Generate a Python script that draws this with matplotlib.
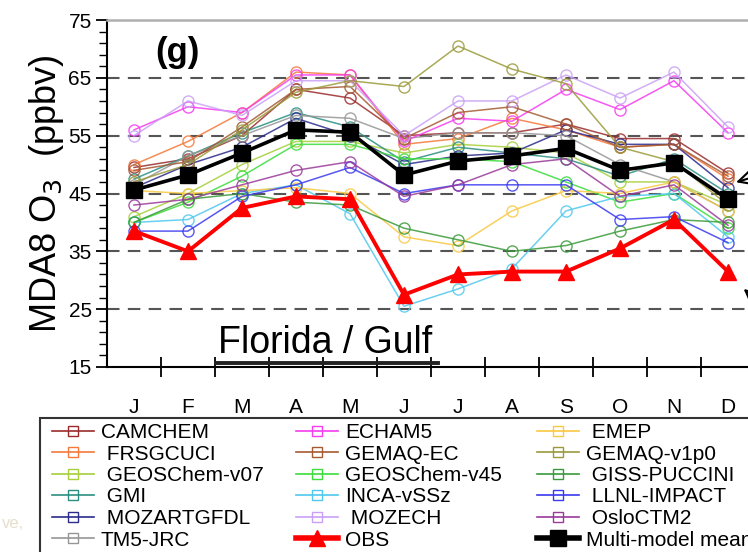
import numpy as np
import matplotlib
matplotlib.use('Agg')
import matplotlib.pyplot as plt
from matplotlib.lines import Line2D
from matplotlib.patches import Rectangle

plt.rcParams['font.family'] = ['Liberation Sans', 'DejaVu Sans']

months = ['J', 'F', 'M', 'A', 'M', 'J', 'J', 'A', 'S', 'O', 'N', 'D']

# model monthly MDA8 O3 (ppbv)
camchem   = [49.5, 51.0, 55.0, 63.0, 61.5, 55.0, 55.5, 55.5, 57.0, 54.5, 54.5, 48.5]
frsgcuci  = [50.0, 54.0, 59.0, 66.0, 65.5, 53.5, 54.5, 58.0, 56.0, 53.0, 53.5, 47.5]
geos_v07  = [41.0, 45.0, 50.0, 54.0, 54.0, 52.0, 53.5, 53.0, 52.0, 47.0, 47.0, 43.0]
gmi       = [47.5, 51.5, 55.5, 59.0, 56.5, 50.5, 53.0, 52.0, 51.0, 48.0, 51.0, 45.0]
mozartg   = [46.0, 50.0, 53.0, 58.0, 55.0, 50.0, 51.5, 52.0, 56.0, 53.5, 53.5, 46.0]
tm5       = [46.5, 51.5, 55.0, 58.5, 58.0, 54.5, 55.5, 55.5, 55.0, 50.0, 47.0, 42.0]
echam5    = [56.0, 60.0, 59.0, 65.5, 65.5, 54.0, 58.0, 57.5, 63.0, 59.5, 64.5, 55.5]
gemaq_ec  = [49.0, 50.5, 56.5, 63.0, 63.5, 54.5, 59.0, 60.0, 57.0, 53.0, 53.5, 48.0]
geos_v45  = [40.0, 43.5, 48.0, 53.5, 53.5, 51.0, 51.0, 50.5, 47.0, 43.5, 45.0, 39.0]
inca      = [40.0, 40.5, 45.0, 46.5, 41.5, 25.5, 28.5, 32.0, 42.0, 44.5, 45.0, 37.5]
mozech    = [55.0, 61.0, 58.5, 64.5, 64.5, 55.0, 61.0, 61.0, 65.5, 61.5, 66.0, 56.5]
emep      = [45.5, 45.0, 45.5, 46.0, 45.0, 37.5, 36.0, 42.0, 45.5, 45.0, 47.0, 42.0]
gemaq_v1  = [47.0, 50.0, 56.0, 62.5, 64.5, 63.5, 70.5, 66.5, 64.0, 53.0, 50.5, 43.0]
giss      = [40.0, 44.0, 45.0, 43.5, 43.0, 39.0, 37.0, 35.0, 36.0, 38.5, 40.5, 40.0]
llnl      = [38.5, 38.5, 44.5, 46.5, 49.5, 45.0, 46.5, 46.5, 46.5, 40.5, 41.0, 36.5]
oslo      = [43.0, 44.0, 46.5, 49.0, 50.5, 44.5, 46.5, 50.0, 51.0, 44.5, 46.5, 39.5]
obs       = [38.5, 35.0, 42.5, 44.5, 44.0, 27.5, 31.0, 31.5, 31.5, 35.5, 40.5, 31.5]
mmm       = [45.6, 48.2, 52.0, 56.0, 55.6, 48.2, 50.6, 51.5, 52.8, 49.0, 50.3, 44.0]

names = ['CAMCHEM', 'FRSGCUCI', 'GEOSChem-v07', 'GMI', 'MOZARTGFDL', 'TM5-JRC',
         'ECHAM5', 'GEMAQ-EC', 'GEOSChem-v45', 'INCA-vSSz', 'MOZECH',
         'EMEP', 'GEMAQ-v1p0', 'GISS-PUCCINI', 'LLNL-IMPACT', 'OsloCTM2']
series = [camchem, frsgcuci, geos_v07, gmi, mozartg, tm5,
          echam5, gemaq_ec, geos_v45, inca, mozech,
          emep, gemaq_v1, giss, llnl, oslo]
colors = ['#9b2b2b', '#f4793b', '#a6cf3a', '#2a8f80', '#2b2b8c', '#969696',
          '#f53cf0', '#a55a32', '#3cdc3c', '#4fc8ee', '#c9a0f5',
          '#f9c842', '#9a9a3a', '#3a9a3a', '#3a3af0', '#9a3a9a']

fig = plt.figure(figsize=(7.48, 5.52), dpi=100)
ax = fig.add_axes([107/748, 1-367/552, 648/748, 347/552])

x = np.arange(12) + 0.5
for s, c in zip(series, colors):
    ax.plot(x, s, color=c, lw=1.1, marker='o', ms=8, mfc='none', mec=c, mew=1.0, alpha=0.85, clip_on=False)
ax.plot(x, obs, color='red', lw=2.8, marker='^', ms=11, mec='red', clip_on=False, zorder=5)
ax.plot(x, mmm, color='black', lw=2.6, marker='s', ms=11, clip_on=False, zorder=6)

ax.set_xlim(0, 12)
ax.set_ylim(15, 75)
ax.set_yticks([15, 25, 35, 45, 55, 65, 75])
ax.set_yticks(np.arange(15, 76, 2), minor=True)
ax.set_xticks(np.arange(1, 12))
ax.set_xticks(x, minor=True)
ax.set_xticklabels([])
ax.set_xticklabels(months, minor=True)
ax.tick_params(axis='y', which='major', direction='out', length=8, width=1.3, labelsize=15, pad=3)
ax.tick_params(axis='y', which='minor', direction='out', length=6, width=1.0)
ax.tick_params(axis='x', which='major', direction='inout', length=15, width=1.3)
ax.tick_params(axis='x', which='minor', length=0, labelsize=15, pad=22)
for g in [25, 35, 45, 55, 65]:
    ax.axhline(g, color='#555555', lw=1.5, ls=(0, (6, 4)), zorder=0)
ax.spines['left'].set_linewidth(1.5)
ax.spines['bottom'].set_linewidth(1.5)
ax.spines['top'].set_color('#b0b0b0')
ax.spines['top'].set_linewidth(1.8)
ax.spines['right'].set_visible(False)
ax.set_ylabel(r'MDA8 O$_3$  (ppbv)', fontsize=26, labelpad=2)

ax.text(0.074, 0.905, '(g)', transform=ax.transAxes, fontsize=25, fontweight='bold', ha='left', va='center')
ax.text(0.171, 0.018, 'Florida / Gulf', transform=ax.transAxes, fontsize=27, ha='left', va='bottom')
ax.plot([0.168, 0.511], [0.012, 0.012], transform=ax.transAxes, color='#222222', lw=2.8, clip_on=False)

ax.annotate('', xy=(11.6, 46.8), xytext=(12.3, 48.8),
            arrowprops=dict(arrowstyle='->', lw=1.5, color='black', mutation_scale=28),
            annotation_clip=False)
ax.annotate('', xy=(11.75, 28.8), xytext=(12.3, 24.5),
            arrowprops=dict(arrowstyle='->', lw=1.5, color='black', mutation_scale=28),
            annotation_clip=False)

# legend, three columns
handles = [Line2D([], [], color=c, lw=1.2, marker='s', ms=7, mfc='none', mec=c) for c in colors]
h_obs = Line2D([], [], color='red', lw=4, marker='^', ms=12)
h_mmm = Line2D([], [], color='black', lw=4, marker='s', ms=11)
col1 = (handles[0:6], ['CAMCHEM', ' FRSGCUCI', ' GEOSChem-v07', ' GMI', ' MOZARTGFDL', 'TM5-JRC'])
col2 = (handles[6:11] + [h_obs], ['ECHAM5', 'GEMAQ-EC', 'GEOSChem-v45', 'INCA-vSSz', ' MOZECH', 'OBS'])
col3 = (handles[11:16] + [h_mmm], [' EMEP', 'GEMAQ-v1p0', ' GISS-PUCCINI', ' LLNL-IMPACT', ' OsloCTM2', 'Multi-model mean'])
for (hs, ls), x0 in zip([col1, col2, col3], [52, 296, 537]):
    fig.legend(hs, ls, loc='upper left', bbox_to_anchor=(x0/748, 1-423/552), frameon=False,
               fontsize=15, borderpad=0, borderaxespad=0, labelspacing=0.12,
               handlelength=2.0, handletextpad=0.35)
fig.patches.append(Rectangle((40/748, -0.05), 0.99, 0.05+1-418/552, transform=fig.transFigure,
                             fill=False, ec='#333333', lw=1.5))
fig.text(2/748, 1-523/552, 've,', fontsize=12, color='#e6dfcc', va='center')

fig.savefig('out.png', dpi=100)
